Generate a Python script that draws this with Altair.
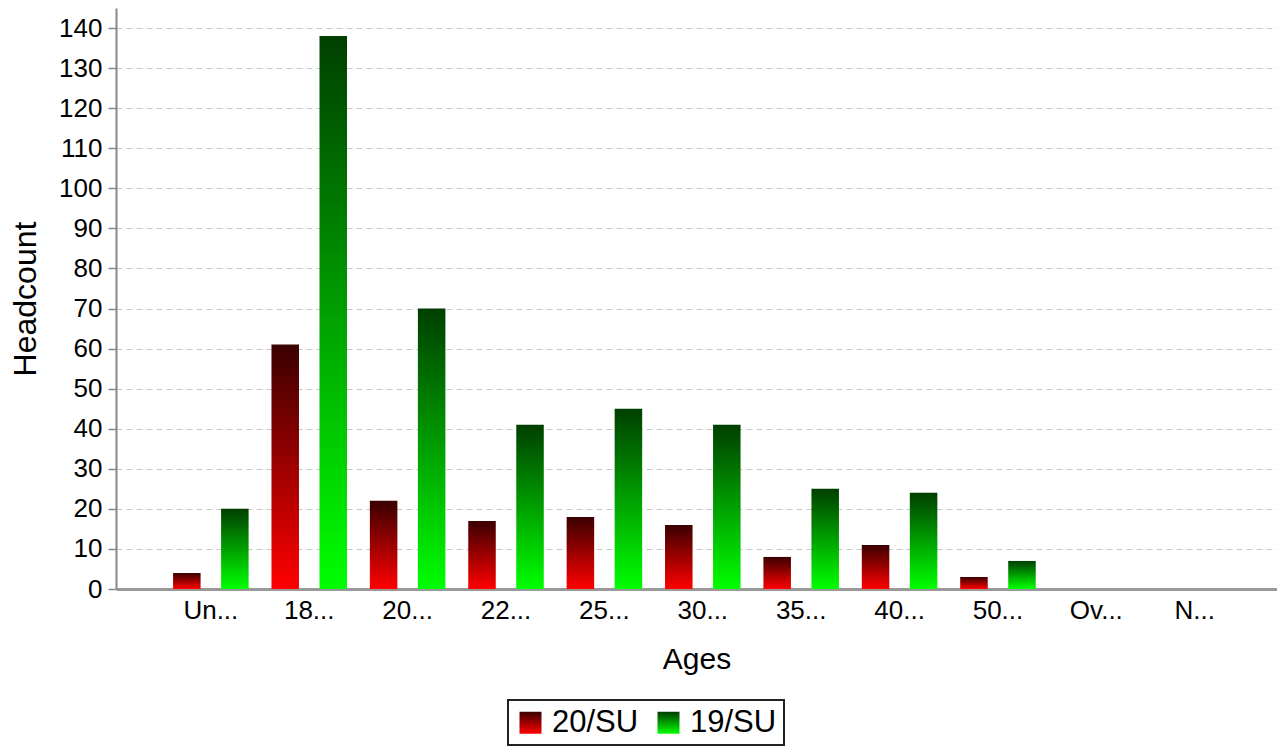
import altair as alt
import pandas as pd

ages = ["Un...", "18...", "20...", "22...", "25...", "30...", "35...", "40...", "50...", "Ov...", "N..."]
su20 = [4, 61, 22, 17, 18, 16, 8, 11, 3, 0, 0]
su19 = [20, 138, 70, 41, 45, 41, 25, 24, 7, 0, 0]
series = ["20/SU", "19/SU"]

rows = []
for a, v in zip(ages, su20):
    rows.append({"Ages": a, "Series": series[0], "Headcount": v})
for a, v in zip(ages, su19):
    rows.append({"Ages": a, "Series": series[1], "Headcount": v})
df = pd.DataFrame(rows)

grad_red = ("{gradient: 'linear', x1: 0, y1: 0, x2: 0, y2: 1, stops: ["
            "{offset: 0, color: '#3a0000'}, {offset: 1, color: '#ff0000'}]}")
grad_green = ("{gradient: 'linear', x1: 0, y1: 0, x2: 0, y2: 1, stops: ["
              "{offset: 0, color: '#003f00'}, {offset: 1, color: '#00ff00'}]}")

FONT = "Liberation Sans"

chart = alt.Chart(df).mark_bar(strokeWidth=0).encode(
    x=alt.X("Ages:N", sort=ages,
            scale=alt.Scale(paddingInner=0, paddingOuter=0.4, align=0.58),
            axis=alt.Axis(title="Ages", labelAngle=0, ticks=False,
                          domainColor="#999999", domainWidth=3,
                          labelFontSize=26, labelPadding=8, labelColor="#000000",
                          titleFontSize=30, titleFontWeight="normal", titlePadding=21,
                          titleColor="#000000")),
    xOffset=alt.XOffset("Series:N", sort=series,
                        scale=alt.Scale(domain=series, paddingInner=0.427, paddingOuter=0.238)),
    y=alt.Y("Headcount:Q",
            scale=alt.Scale(domain=[0, 145], nice=False),
            axis=alt.Axis(title="Headcount", values=list(range(0, 141, 10)),
                          grid=True, gridDash=[6, 4], gridColor="#c8c8c8", gridWidth=1,
                          tickColor="#888888", tickSize=8, tickWidth=1.5,
                          domainColor="#888888", domainWidth=2,
                          labelFontSize=26, labelPadding=6, labelColor="#000000",
                          titleFontSize=32, titleFontWeight="normal", titlePadding=16,
                          titleColor="#000000")),
    fill=alt.Fill("Series:N", sort=series,
                  scale=alt.Scale(domain=series,
                                  range=[alt.ExprRef(grad_red), alt.ExprRef(grad_green)]),
                  legend=alt.Legend(title=None, orient="none", legendX=392, legendY=692,
                                    direction="horizontal", symbolType="square",
                                    symbolSize=484, symbolStrokeWidth=0,
                                    labelFontSize=31, labelOffset=6, labelColor="#000000",
                                    columnPadding=14, padding=7,
                                    strokeColor="#222222")),
).properties(
    width=1161,
    height=581,
    autosize=alt.AutoSizeParams(type="none"),
    padding={"left": 108, "top": 0, "right": 0, "bottom": 157},
).configure(
    font=FONT,
).configure_legend(
    strokeWidth=2,
).configure_view(
    stroke=None,
)

chart.save("out.html", embed_options={"renderer": "svg", "actions": False})
